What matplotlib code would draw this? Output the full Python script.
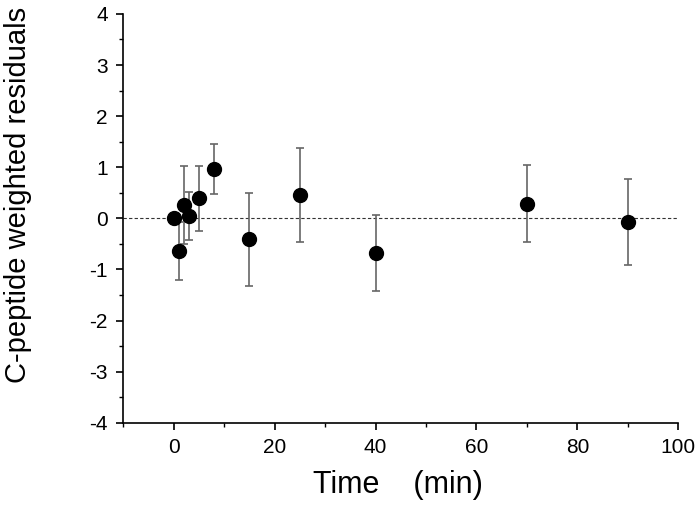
import numpy as np
import matplotlib
matplotlib.use("Agg")
import matplotlib.pyplot as plt
from matplotlib.ticker import MultipleLocator

plt.rcParams['font.family'] = ['Liberation Sans', 'DejaVu Sans']
plt.rcParams['axes.unicode_minus'] = False

time = [0, 1, 2, 3, 5, 8, 15, 25, 40, 70, 90]
resid = [0.0, -0.64, 0.26, 0.05, 0.39, 0.97, -0.41, 0.45, -0.68, 0.29, -0.07]
err = [0.0, 0.57, 0.76, 0.47, 0.64, 0.49, 0.91, 0.92, 0.74, 0.76, 0.84]

fig = plt.figure(figsize=(7, 5.15), dpi=100)
ax = fig.add_axes([0.176, 0.179, 0.793, 0.794])

ax.axhline(0, color='#333333', linestyle=(0, (3, 2)), linewidth=0.8, zorder=1)
ax.errorbar(time, resid, yerr=err, fmt='none', ecolor='#666666', elinewidth=1.2,
            capsize=3, capthick=1.2, zorder=2)
ax.plot(time, resid, 'o', color='black', markersize=10, zorder=3)

ax.set_xlim(-10, 100)
ax.set_ylim(-4, 4)
ax.xaxis.set_major_locator(MultipleLocator(20))
ax.xaxis.set_minor_locator(MultipleLocator(10))
ax.yaxis.set_major_locator(MultipleLocator(1))
ax.yaxis.set_minor_locator(MultipleLocator(0.5))
ax.spines['top'].set_visible(False)
ax.spines['right'].set_visible(False)
for s in ['left', 'bottom']:
    ax.spines[s].set_linewidth(1.2)
ax.tick_params(which='major', direction='out', length=5, width=1.2, labelsize=15, pad=6)
ax.tick_params(which='minor', direction='out', length=3, width=1.0)

ax.set_xlabel('Time    (min)', fontsize=22)
ax.set_ylabel('C-peptide weighted residuals', fontsize=21)
ax.xaxis.set_label_coords(0.495, -0.115)
ax.yaxis.set_label_coords(-0.165, 0.557)

fig.savefig('out.png', dpi=100)
